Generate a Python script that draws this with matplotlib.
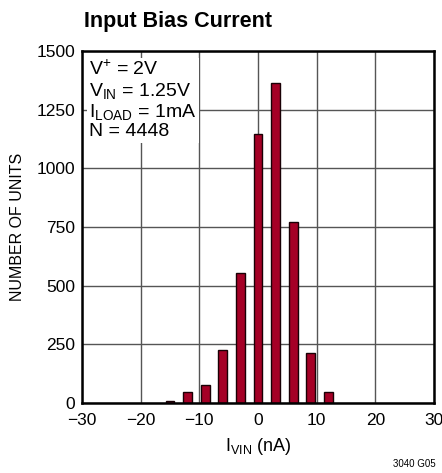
import numpy as np
import matplotlib.pyplot as plt
from matplotlib import rcParams

rcParams['font.family'] = ['Liberation Sans', 'DejaVu Sans']
rcParams['font.size'] = 12
rcParams['mathtext.fontset'] = 'custom'
rcParams['mathtext.rm'] = 'Liberation Sans'

# data
bin_centers = [-15, -12, -9, -6, -3, 0, 3, 6, 9, 12]
counts = [10, 45, 78, 225, 555, 1145, 1362, 770, 215, 45]
x_ticks = [-30, -20, -10, 0, 10, 20, 30]
x_labels = ['\u221230', '\u221220', '\u221210', '0', '10', '20', '30']
y_ticks = [0, 250, 500, 750, 1000, 1250, 1500]

fig = plt.figure(figsize=(4.42, 4.73), dpi=100)
ax = fig.add_axes([0.1855, 0.148, 0.7965, 0.744])

ax.bar(bin_centers, counts, width=1.5, color='#a50026', edgecolor='#1a0005',
       linewidth=1.0, zorder=3)

ax.set_xlim(-30, 30)
ax.set_ylim(0, 1500)
ax.set_xticks(x_ticks)
ax.set_xticklabels(x_labels)
ax.set_yticks(y_ticks)
ax.tick_params(length=0, labelsize=12.5)
ax.tick_params(axis='x', pad=7)
ax.tick_params(axis='y', pad=5)
ax.grid(True, color='#555555', linewidth=1.0, zorder=1)
for s in ax.spines.values():
    s.set_linewidth(1.8)
    s.set_color('black')
    s.set_zorder(4)

ax.text(0.02, 0.975,
        '$\\mathregular{V^{+}}$ = 2V\n'
        '$\\mathregular{V_{IN}}$ = 1.25V\n'
        '$\\mathregular{I_{LOAD}}$ = 1mA\n'
        'N = 4448',
        transform=ax.transAxes, ha='left', va='top', fontsize=14,
        linespacing=1.1, zorder=5,
        bbox=dict(facecolor='white', edgecolor='none', pad=1.5))

ax.set_ylabel('NUMBER OF UNITS', fontsize=11.5, labelpad=8)
ax.set_xlabel('$\\mathregular{I_{VIN}}$ (nA)', fontsize=13, labelpad=6)

fig.text(0.19, 0.955, 'Input Bias Current', fontsize=15.5, fontweight='bold',
         ha='left', va='center')
fig.text(0.985, 0.018, '3040 G05', fontsize=7, ha='right', va='center')

fig.savefig('out.png', dpi=100)
